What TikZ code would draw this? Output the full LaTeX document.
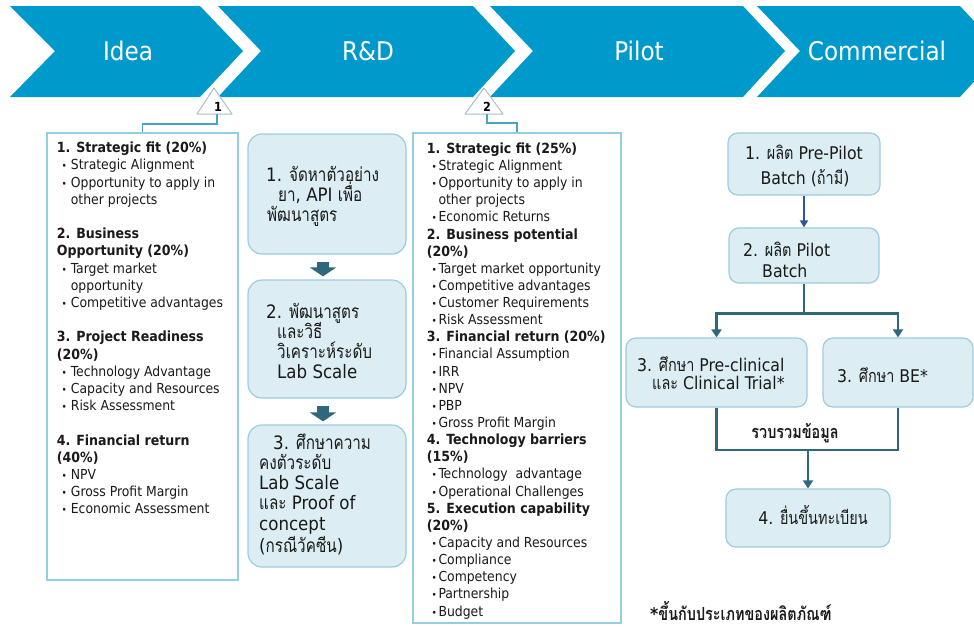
\documentclass[tikz,border=0pt]{standalone}
\usepackage{fontspec}
\setmainfont{DejaVu Sans Condensed}[BoldFont={DejaVu Sans Condensed Bold}]
\newfontfamily\thf[Script=Thai,Scale=1.03,FakeStretch=0.8]{Loma}
\usetikzlibrary{arrows.meta,calc}

\definecolor{chev}{HTML}{0099CC}
\definecolor{boxfill}{HTML}{DCEEF4}
\definecolor{boxline}{HTML}{9FCBDC}
\definecolor{critline}{HTML}{93CFDE}
\definecolor{flow}{HTML}{2F687B}
\definecolor{navy}{HTML}{2E5597}
\definecolor{ink}{HTML}{1A1A1A}
\definecolor{tri}{HTML}{A9BFCF}
\definecolor{link}{HTML}{4AA3C0}

\newcounter{lnc}
% one line of a criteria list: header, bullet item, continuation
\newcommand\Hd[2]{\stepcounter{lnc}\edef\nm{ln\arabic{lnc}}%
  \node[crit,font=\critbf] (\nm) at (\crHx,{\crY+\crD*#1}) {#2};}
\newcommand\Bu[2]{\stepcounter{lnc}\edef\nm{ln\arabic{lnc}}%
  \node[crit,font=\critbul] (\nm) at (\crBx,{\crY+\crD*#1}) {\textbullet};
  \node[crit] (\nm t) at (\crTx,{\crY+\crD*#1}) {#2};}
\newcommand\Co[2]{\stepcounter{lnc}\edef\nm{ln\arabic{lnc}}%
  \node[crit] (\nm) at (\crTx,{\crY+\crD*#1}) {#2};}
\newcommand\critfont{\fontsize{13.8}{16}\selectfont}
\newcommand\critbf{\fontsize{14}{16}\selectfont\bfseries}
\newcommand\critbul{\fontsize{10}{10}\selectfont}

\begin{document}
\begin{tikzpicture}[x=1pt,y=-1pt,
  chevtxt/.style={inner sep=0,text=white,font=\fontsize{25.7}{30}\selectfont},
  crit/.style={anchor=base west,inner sep=0,text=ink,font=\critfont},
  critbox/.style={draw=critline,line width=1.3pt,inner sep=0},
  rbox/.style={draw=boxline,fill=boxfill,line width=1.2pt,rounded corners=14pt,inner sep=0},
  sbox/.style={rbox,rounded corners=10pt},
  rdtxt/.style={anchor=base west,inner sep=0,text=ink,font=\fontsize{18.5}{22}\selectfont},
  ftxt/.style={anchor=base west,inner sep=0,text=ink,font=\fontsize{17.5}{20}\selectfont},
  blockarrow/.style={flow,line width=12pt,-{Triangle[width=26pt,length=9pt]}},
  flowline/.style={flow,line width=2.8pt},
  flowarrow/.style={flowline,-{Triangle[width=10pt,length=8pt]}},
  marker/.style={draw=tri,fill=white,line width=1pt,line join=round},
  marktxt/.style={inner sep=0,text=black,font=\fontsize{12.5}{12.5}\selectfont\bfseries},
  linkline/.style={link,line width=1.4pt}]

\useasboundingbox (0,0) rectangle (974,627);
\fill[white] (0,0) rectangle (974,627);

% stage chevrons
\begin{scope}
\clip (0,0) rectangle (974,627);
\fill[chev] (10,6) -- (200,6) -- (243,51) -- (200,97) -- (10,97) -- (55,51) -- cycle;
\fill[chev] (218,6) -- (473,6) -- (515,51) -- (473,97) -- (218,97) -- (261,51) -- cycle;
\fill[chev] (490,6) -- (743,6) -- (785,51) -- (743,97) -- (490,97) -- (533,51) -- cycle;
\fill[chev] (757,6) -- (960,6) -- (1002,51) -- (960,97) -- (757,97) -- (800,51) -- cycle;
\end{scope}
\node[chevtxt] (sIdea) at (128,51) {Idea};
\node[chevtxt] (sRD) at (368,51) {R\&D};
\node[chevtxt] (sPilot) at (639,51) {Pilot};
\node[chevtxt] (sComm) at (877,51) {Commercial};

% gate markers
\draw[marker] (197,114) -- (214,88) -- (232,114) -- cycle;
\node[marktxt] (g1) at (218,107) {1};
\coordinate (g1b) at (217,114);
\draw[marker] (465,114) -- (484,88) -- (503,114) -- cycle;
\node[marktxt] (g2) at (487,107) {2};
\coordinate (g2b) at (487,114);

% criteria boxes
\node[critbox,minimum width=191pt,minimum height=447pt] (ideabox) at (142.5,356.5) {};
\node[critbox,minimum width=208pt,minimum height=490pt] (pilotbox) at (517,378) {};
\draw[linkline] (g1b) -- ++(0,10) -| (ideabox.north);
\draw[linkline] (g2b) -- ++(0,9) -| (pilotbox.north);

% gate 1 criteria
\def\crHx{56.7}\def\crBx{61.5}\def\crTx{70.7}\def\crY{152.7}\def\crD{17.2}
\Hd{0}{1. Strategic fit (20\%)}
\Bu{1}{Strategic Alignment}
\Bu{2}{Opportunity to apply in}
\Co{3}{other projects}
\Hd{5}{2. Business}
\Hd{6}{Opportunity (20\%)}
\Bu{7}{Target market}
\Co{8}{opportunity}
\Bu{9}{Competitive advantages}
\Hd{11}{3. Project Readiness}
\Hd{12}{(20\%)}
\Bu{13}{Technology Advantage}
\Bu{14}{Capacity and Resources}
\Bu{15}{Risk Assessment}
\Hd{17}{4. Financial return}
\Hd{18}{(40\%)}
\Bu{19}{NPV}
\Bu{20}{Gross Profit Margin}
\Bu{21}{Economic Assessment}

% gate 2 criteria
\def\crHx{426.7}\def\crBx{431.3}\def\crTx{438.3}\def\crY{153.3}\def\crD{17.14}
\Hd{0}{1. Strategic fit (25\%)}
\Bu{1}{Strategic Alignment}
\Bu{2}{Opportunity to apply in}
\Co{3}{other projects}
\Bu{4}{Economic Returns}
\Hd{5}{2. Business potential}
\Hd{6}{(20\%)}
\Bu{7}{Target market opportunity}
\Bu{8}{Competitive advantages}
\Bu{9}{Customer Requirements}
\Bu{10}{Risk Assessment}
\Hd{11}{3. Financial return (20\%)}
\Bu{12}{Financial Assumption}
\Bu{13}{IRR}
\Bu{14}{NPV}
\Bu{15}{PBP}
\Bu{16}{Gross Profit Margin}
\Hd{17}{4. Technology barriers}
\Hd{18}{(15\%)}
\Bu{19}{Technology\ \ advantage}
\Bu{20}{Operational Challenges}
\Hd{21}{5. Execution capability}
\Hd{22}{(20\%)}
\Bu{23}{Capacity and Resources}
\Bu{24}{Compliance}
\Bu{25}{Competency}
\Bu{26}{Partnership}
\Bu{27}{Budget}

% R&D steps
\node[rbox,minimum width=158pt,minimum height=120pt] (rd1) at (327,194) {};
\node[rbox,minimum width=158pt,minimum height=118pt] (rd2) at (327,339) {};
\node[rbox,minimum width=158pt,minimum height=142pt] (rd3) at (327,496) {};
\draw[blockarrow] ($(rd1.south)+(-4,7)$) -- ($(rd2.north)+(-4,-3)$);
\draw[blockarrow] ($(rd2.south)+(-4,7)$) -- ($(rd3.north)+(-4,-3)$);

\node[rdtxt] (rd1a) at (266,181) {1. {\thf จัดหาตัวอย่าง}};
\node[rdtxt] (rd1b) at (278,201) {{\thf ยา}, API {\thf เพื่อ}};
\node[rdtxt] (rd1c) at (267,221) {\thf พัฒนาสูตร};
\node[rdtxt] (rd2a) at (266,318) {2. {\thf พัฒนาสูตร}};
\node[rdtxt] (rd2b) at (277,338) {\thf และวิธี};
\node[rdtxt] (rd2c) at (277,358) {\thf วิเคราะห์ระดับ};
\node[rdtxt] (rd2d) at (277,378) {Lab Scale};
\node[rdtxt] (rd3a) at (273,449) {3. {\thf ศึกษาความ}};
\node[rdtxt] (rd3b) at (259,469) {\thf คงตัวระดับ};
\node[rdtxt] (rd3c) at (259,489) {Lab Scale};
\node[rdtxt] (rd3d) at (259,509) {{\thf และ} Proof of};
\node[rdtxt] (rd3e) at (259,530) {concept};
\node[rdtxt] (rd3f) at (259,552) {({\thf กรณีวัคซีน})};

% commercial-stage flow
\node[sbox,minimum width=152pt,minimum height=62pt] (pA) at (804,164) {};
\node[sbox,minimum width=150pt,minimum height=55pt] (pB) at (804,255.5) {};
\node[sbox,minimum width=181pt,minimum height=69pt] (pC) at (716.5,372.5) {};
\node[sbox,minimum width=150pt,minimum height=69pt] (pD) at (898,372.5) {};
\node[sbox,minimum width=164pt,minimum height=58pt] (pE) at (808,518) {};

\node[ftxt,anchor=base] (pA1) at (804,159) {1. {\thf ผลิต} Pre-Pilot};
\node[ftxt,anchor=base] (pA2) at (805,184) {Batch ({\thf ถ้ามี})};
\node[ftxt] (pB1) at (743,256) {2. {\thf ผลิต} Pilot};
\node[ftxt] (pB2) at (762,277) {Batch};
\node[ftxt] (pC1) at (637,371) {3. {\thf ศึกษา} Pre-clinical};
\node[ftxt] (pC2) at (652,389) {{\thf และ} Clinical Trial*};
\node[ftxt] (pD1) at (837,382) {3. {\thf ศึกษา} BE*};
\node[ftxt,anchor=base] (pE1) at (813,524) {4. {\thf ยื่นขึ้นทะเบียน}};

\draw[navy,line width=2pt,-{Triangle[width=8pt,length=7pt]}] (pA.south) -- (pB.north);
\coordinate (split) at ($(pB.south)+(0,30)$);
\draw[flowarrow] (pB.south) -- (split) -| (pC.north);
\draw[flowarrow] (split) -| (pD.north);
\coordinate (merge) at (808,450);
\draw[flowline] (pC.south) -- (pC.south |- merge) -- (pD.south |- merge) -- (pD.south);
\draw[flowarrow] (pE.north |- merge) -- (pE.north);
\node[ftxt,anchor=base] (collect) at (795,438) {\thf\bfseries รวบรวมข้อมูล};

\node[ftxt] (note) at (650,620) {\bfseries *{\thf\bfseries ขึ้นกับประเภทของผลิตภัณฑ์}};
\end{tikzpicture}
\end{document}
